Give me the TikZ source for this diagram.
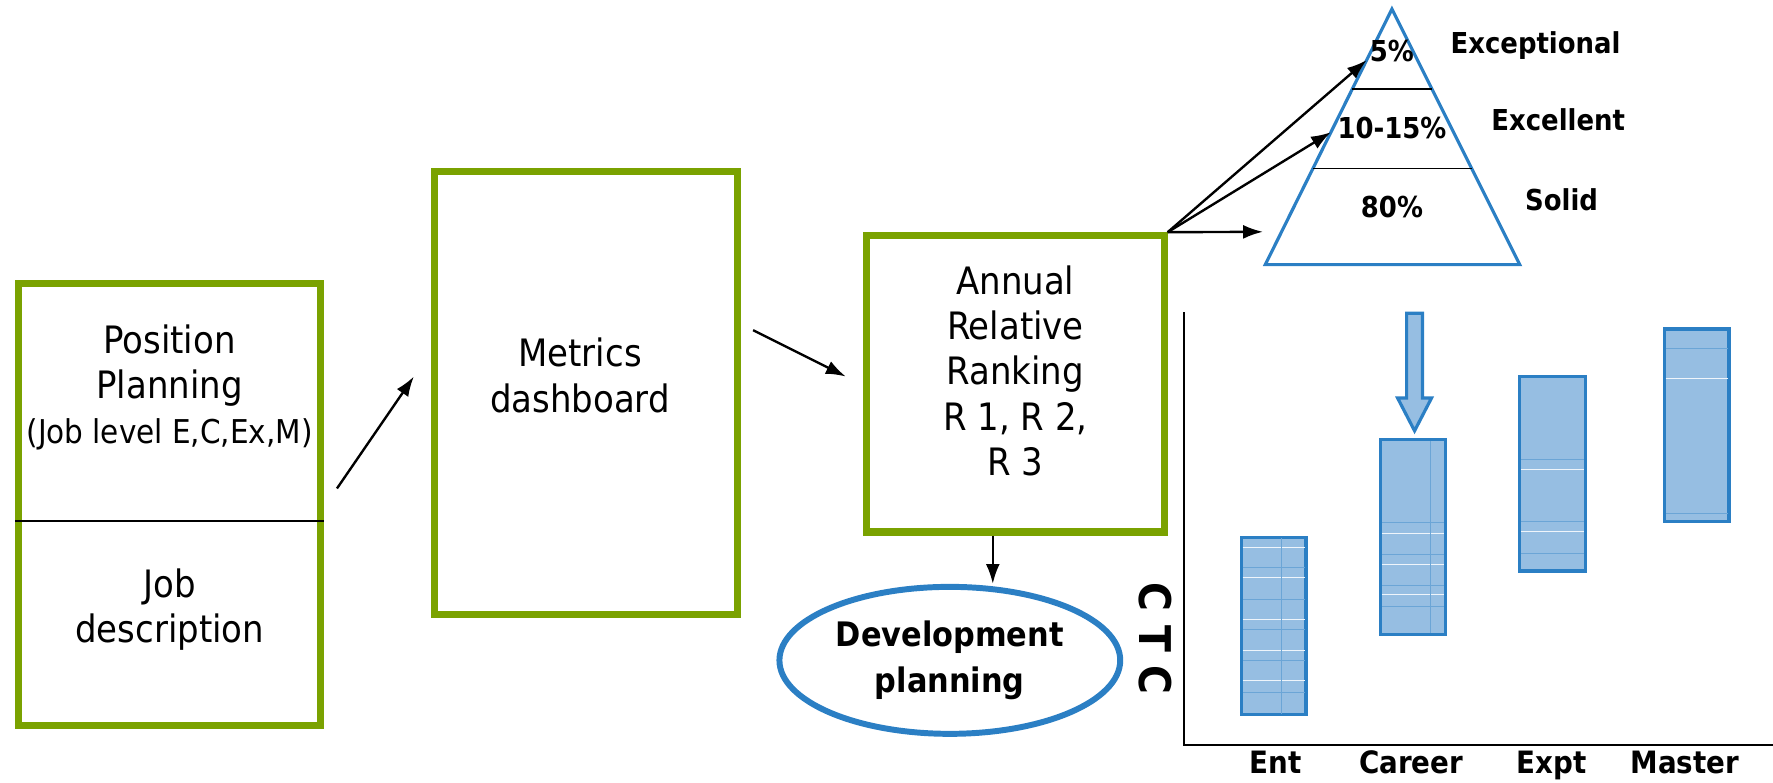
\documentclass[tikz,border=0pt]{standalone}
\usepackage{fontspec}
\setmainfont{DejaVu Sans Condensed}
\usetikzlibrary{shapes,arrows.meta,positioning,calc}
\definecolor{boxgreen}{RGB}{122,162,0}
\definecolor{pyrblue}{RGB}{43,127,196}
\definecolor{barfill}{RGB}{150,190,226}

\begin{document}
\begin{tikzpicture}[x=0.02cm, y=-0.02cm, >={Latex[length=10pt,width=7pt]},
    gbox/.style={rectangle, draw=boxgreen, line width=3.6pt, inner sep=0pt},
    txt/.style={align=center, font=\fontsize{19}{22.7}\selectfont},
    lbl/.style={font=\fontsize{14.5}{17}\selectfont\bfseries},
    axlbl/.style={anchor=base, font=\fontsize{15.5}{19}\selectfont\bfseries},
    bar/.style={draw=pyrblue, line width=1.6pt, fill=barfill}]
    \useasboundingbox (0,0) rectangle (1568,692);

    % green boxes
    \node[gbox, minimum width=5.34cm, minimum height=7.82cm] (plan) at (150,446) {};
    \node[gbox, minimum width=5.36cm, minimum height=7.84cm] (metrics) at (518.5,347.5) {};
    \node[gbox, minimum width=5.26cm, minimum height=5.24cm] (rank) at (898,339.5) {};
    \coordinate (cut) at (150,461);
    \draw[line width=1pt] (plan.west |- cut) -- (plan.east |- cut);

    \node[txt] (postxt) at (150,343) {Position\\Planning\\{\fontsize{16.5}{22.7}\selectfont (Job level E,C,Ex,M)}};
    \node[txt] (jobtxt) at (150,539) {Job\\description};
    \node[txt] (mettxt) at (513,332) {Metrics\\dashboard};
    \node[txt] (ranktxt) at (898,328) {Annual\\Relative\\Ranking\\R 1, R 2,\\R 3};

    \node[ellipse, draw=pyrblue, line width=3pt, minimum width=5.62cm, minimum height=2.6cm,
          align=center, font=\fontsize{17}{22.7}\selectfont\bfseries] (dev) at (840,584) {Development\\planning};

    \coordinate (a1s) at (298,432);
    \coordinate (a1e) at (366,333);
    \coordinate (a2s) at (666,292);
    \coordinate (a2e) at (748,333);
    \draw[->, line width=1.2pt] (a1s) -- (a1e);
    \draw[->, line width=1.2pt] (a2s) -- (a2e);
    \draw[->, line width=1.2pt] (rank.south -| 878,0) -- (dev.north -| 878,0);

    % pyramid
    \coordinate (apex) at (1231,8);
    \coordinate (bl) at (1119,234);
    \coordinate (br) at (1344,234);
    \draw[pyrblue, line width=1.6pt] (apex) -- (br) -- (bl) -- cycle;
    \draw[line width=1pt] ($(apex)!0.314!(bl)$) -- ($(apex)!0.314!(br)$);
    \draw[line width=1pt] ($(apex)!0.624!(bl)$) -- ($(apex)!0.624!(br)$);
    \coordinate (t3) at (1117,205);
    \draw[->, line width=1.2pt] (rank.north east) -- ($(apex)!0.2!(bl)$);
    \draw[->, line width=1.2pt] (rank.north east) -- ($(apex)!0.482!(bl)$);
    \draw[->, line width=1.2pt] (rank.north east) -- (t3);

    \node[lbl] (p5) at (1231,45) {5\%};
    \node[lbl] (p10) at (1231,113) {10-15\%};
    \node[lbl] (p80) at (1231,183) {80\%};
    \node[lbl] (exc) at (1358,40) {Exceptional};
    \node[lbl] (exl) at (1378,106) {Excellent};
    \node[lbl] (sol) at (1381,177) {Solid};

    % CTC chart
    \draw[line width=1.2pt] (1047,276) -- (1047,659) -- (1568,659);
    \node[rotate=-90, font=\fontsize{22}{26}\selectfont\bfseries] (ctc) at (1022,565) {C T C};

    \draw[bar] (1098,475) rectangle (1155,632);
    \draw[bar] (1221,389) rectangle (1278,561);
    \draw[bar] (1344,333) rectangle (1402,505);
    \draw[bar] (1472,291) rectangle (1529,461);
    \draw[bar, line join=miter] (1244,277) -- (1258,277) -- (1258,352) -- (1266,352) -- (1251,381)
        -- (1236,352) -- (1244,352) -- cycle;

    \foreach \y in {502,530,557,584,612} \draw[pyrblue!70, line width=0.4pt] (1099,\y) -- (1154,\y);
    \foreach \y in {484,511,548,575,602} \draw[white!85!barfill, line width=0.6pt] (1099,\y) -- (1154,\y);
    \draw[pyrblue!70, line width=0.4pt] (1133,476) -- (1133,631);
    \foreach \y in {462,490,518,536} \draw[pyrblue!70, line width=0.4pt] (1222,\y) -- (1277,\y);
    \foreach \y in {472,499,526} \draw[white!85!barfill, line width=0.6pt] (1222,\y) -- (1277,\y);
    \draw[pyrblue!70, line width=0.4pt] (1265,390) -- (1265,560);
    \foreach \y in {406,461,489} \draw[pyrblue!70, line width=0.4pt] (1345,\y) -- (1401,\y);
    \foreach \y in {415,470} \draw[white!85!barfill, line width=0.6pt] (1345,\y) -- (1401,\y);
    \foreach \y in {308,454} \draw[pyrblue!70, line width=0.4pt] (1473,\y) -- (1528,\y);
    \draw[white!85!barfill, line width=0.6pt] (1473,335) -- (1528,335);

    \node[axlbl] (ent) at (1128,684) {Ent};
    \node[axlbl] (car) at (1248,684) {Career};
    \node[axlbl] (expt) at (1372,684) {Expt};
    \node[axlbl] (mas) at (1490,684) {Master};
\end{tikzpicture}
\end{document}
